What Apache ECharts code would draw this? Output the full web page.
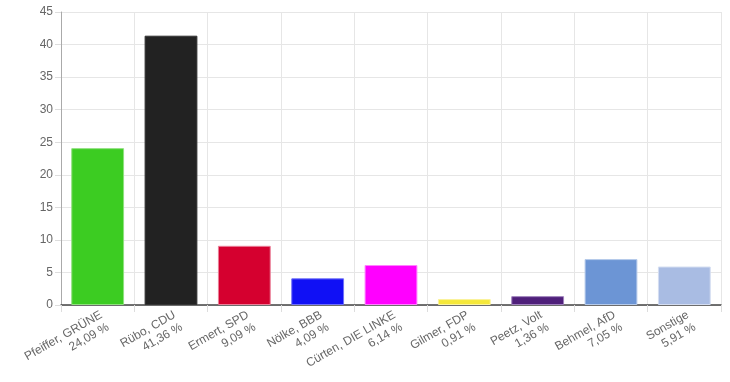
<!DOCTYPE html>
<html>
<head>
<meta charset="utf-8">
<script src="https://cdn.jsdelivr.net/npm/echarts@6/dist/echarts.min.js"></script>
<style>html,body{margin:0;padding:0;background:#fff}#c{width:730px;height:382px}</style>
</head>
<body>
<div id="c"></div>
<script>
const candidates = ["Pfeiffer, GRÜNE", "Rübo, CDU", "Ermert, SPD", "Nölke, BBB", "Cürten, DIE LINKE", "Gilmer, FDP", "Peetz, Volt", "Behmel, AfD", "Sonstige"];
const percentLabels = ["24,09 %", "41,36 %", "9,09 %", "4,09 %", "6,14 %", "0,91 %", "1,36 %", "7,05 %", "5,91 %"];
const values = [24.09, 41.36, 9.09, 4.09, 6.14, 0.91, 1.36, 7.05, 5.91];
const colors = ["#3ccc22", "#222222", "#d5002f", "#1010f5", "#ff00ff", "#f5e83a", "#4f1f7a", "#6c95d5", "#a9bce3"];
const borders = ["#8fe07e", "#333333", "#ea7f98", "#7070f8", "#ff80ff", "#faf39c", "#9f80bc", "#b5caea", "#d4ddf1"];

const chart = echarts.init(document.getElementById('c'), null, {renderer: 'canvas'});
chart.setOption({
  animation: false,
  grid: {left: 61, right: 9, top: 12, bottom: 77, containLabel: false, outerBoundsMode: 'none'},
  xAxis: {
    type: 'category',
    data: candidates.map((c, i) => c + '\n' + percentLabels[i]),
    boundaryGap: true,
    axisLine: {lineStyle: {color: '#444', width: 1.5}},
    axisTick: {show: true, length: 7, lineStyle: {color: '#ddd'}},
    splitLine: {show: true, lineStyle: {color: '#e6e6e6'}},
    axisLabel: {interval: 0, rotate: 30, color: '#666', fontSize: 12, fontFamily: 'Liberation Sans, Arial, sans-serif', margin: 3, lineHeight: 14, verticalAlign: 'top'}
  },
  yAxis: {
    type: 'value', min: 0, max: 45, interval: 5,
    axisLine: {show: true, lineStyle: {color: '#aaa'}},
    axisTick: {show: true, length: 6, lineStyle: {color: '#ddd'}},
    splitLine: {show: true, lineStyle: {color: '#e6e6e6'}},
    axisLabel: {color: '#666', fontSize: 12, fontFamily: 'Liberation Sans, Arial, sans-serif', margin: 8}
  },
  series: [{
    type: 'bar',
    barCategoryGap: '28%',
    data: values.map((v, i) => ({value: v, itemStyle: {color: colors[i], borderColor: borders[i], borderWidth: 1}}))
  }]
});
</script>
</body>
</html>
